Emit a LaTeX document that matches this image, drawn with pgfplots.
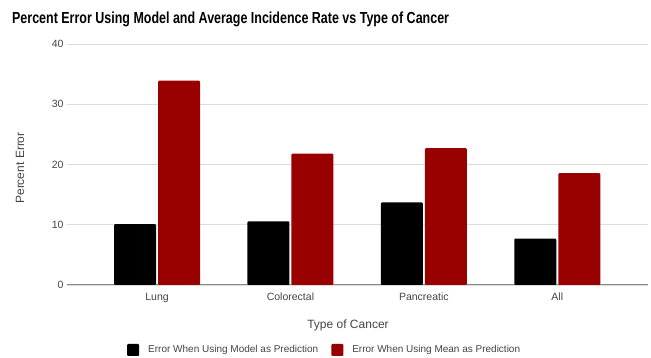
\documentclass[border=0pt]{standalone}
\usepackage{fontspec}
\setmainfont{Liberation Sans}
\usepackage{pgfplots}
\pgfplotsset{compat=1.18}

\definecolor{darkred}{HTML}{990000}
\definecolor{gridgray}{HTML}{DDDDDD}
\definecolor{basegray}{HTML}{888888}
\definecolor{labelgray}{HTML}{444444}

\begin{document}
\begin{tikzpicture}[x=1pt,y=1pt]
\useasboundingbox (0,0) rectangle (651,358);

% chart title
\node[anchor=west, inner sep=0pt, font=\fontsize{16}{19}\selectfont\bfseries, xscale=0.78, transform shape] at (12,339)
  {Percent Error Using Model and Average Incidence Rate vs Type of Cancer};

% vertical axis title
\node[rotate=90, inner sep=0pt, font=\fontsize{12}{14}\selectfont, text=labelgray] at (20,190) {Percent Error};

% horizontal axis title
\node[inner sep=0pt, font=\fontsize{12}{14}\selectfont, text=labelgray] at (348,33) {Type of Cancer};

\begin{axis}[
  at={(67pt,73pt)}, anchor=south west,
  scale only axis, width=581pt, height=241pt,
  xmin=-0.675, xmax=3.68, ymin=0, ymax=40,
  ybar=2pt, bar width=42pt,
  xtick={0,1,2,3}, xticklabels={Lung,Colorectal,Pancreatic,All},
  ytick={0,10,20,30,40},
  /pgf/number format/assume math mode=true,
  ticklabel style={font=\fontsize{10.5}{12}\selectfont, text=labelgray},
  axis line style={draw=none},
  tick style={draw=none},
  ymajorgrids, grid style={gridgray, line width=0.8pt},
  extra y ticks={0}, extra y tick labels={},
  extra y tick style={grid style={basegray, line width=1pt}},
  legend style={at={(axis description cs:0.1033,-0.2697)}, anchor=west,
    draw=none, inner sep=0pt, legend columns=2,
    font=\fontsize{10}{12}\selectfont, text=labelgray,
    /tikz/every even column/.append style={column sep=11pt}},
  legend image code/.code={\fill[#1] (0pt,-6pt) rectangle (12pt,6pt); \path (19pt,0pt);},
]
\addplot[fill=black, draw=none, rounded corners=1pt] coordinates {(0,10.1) (1,10.55) (2,13.7) (3,7.7)};
\addplot[fill=darkred, draw=none, rounded corners=1pt] coordinates {(0,33.9) (1,21.8) (2,22.7) (3,18.55)};
\legend{Error When Using Model as Prediction, Error When Using Mean as Prediction}
\end{axis}
\end{tikzpicture}
\end{document}
